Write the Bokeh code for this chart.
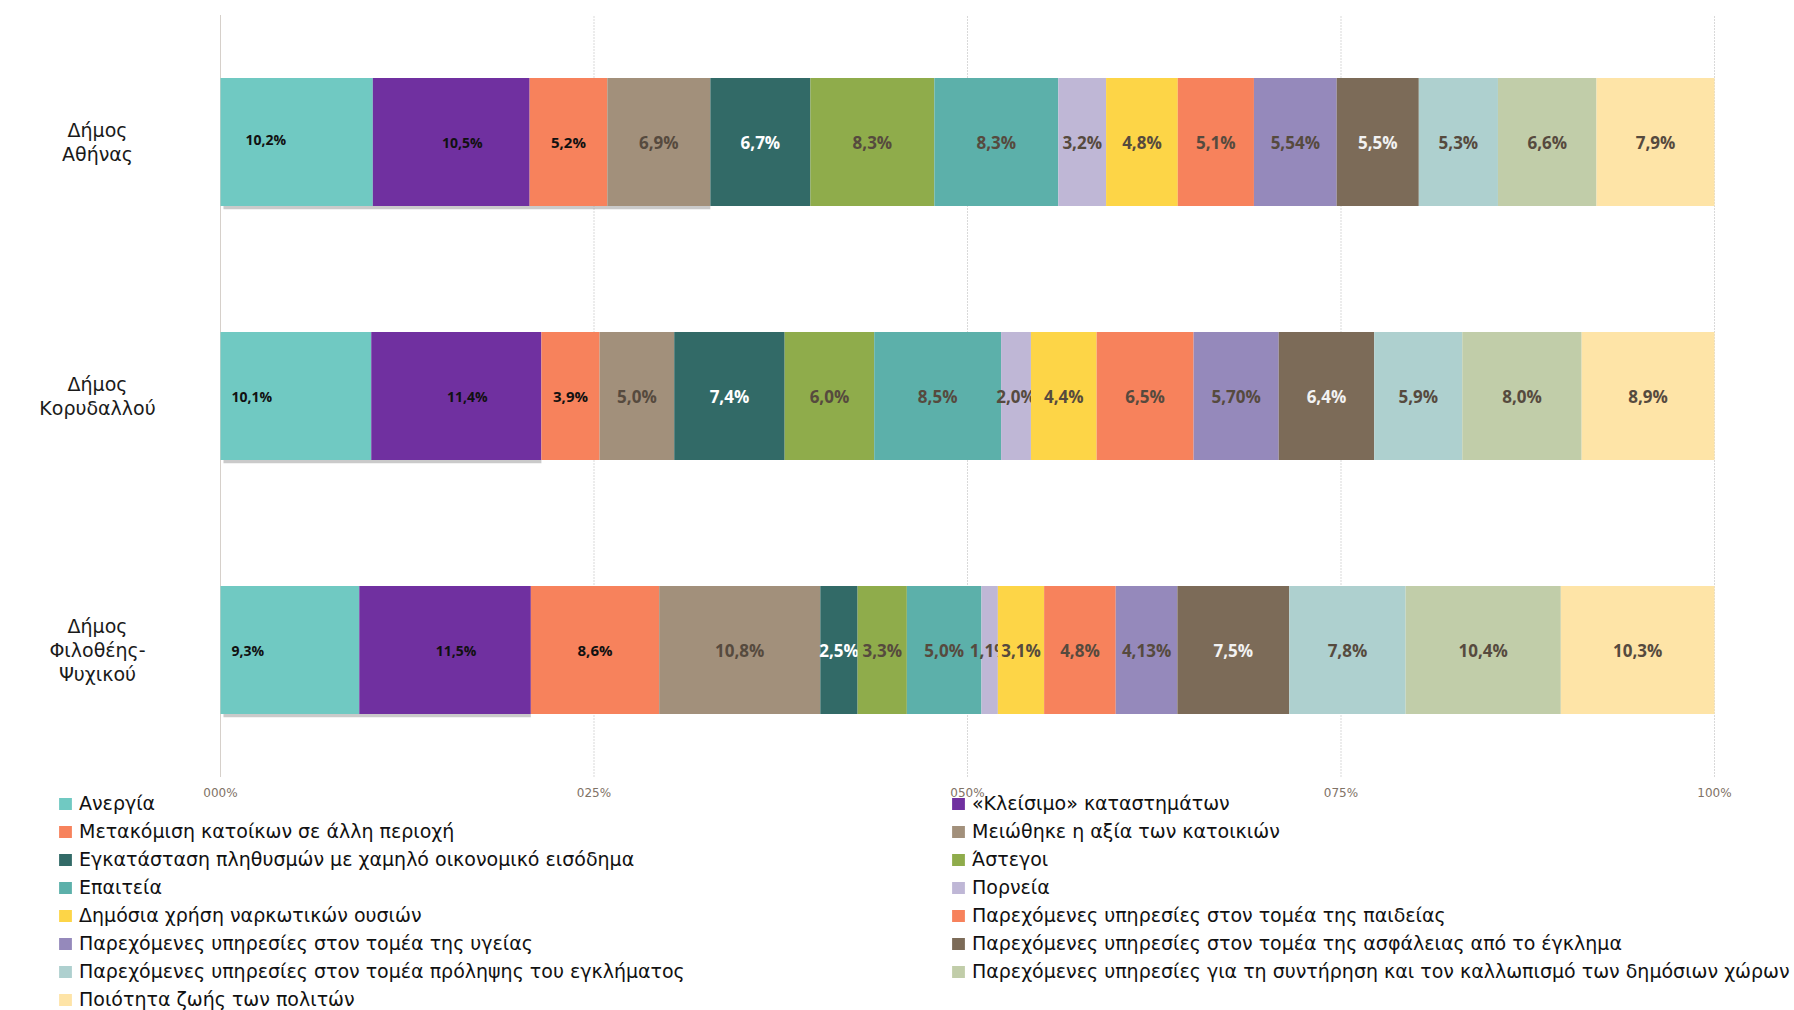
from bokeh.plotting import figure
from bokeh.models import ColumnDataSource, Range1d, FixedTicker, Legend, LegendItem
from bokeh.embed import file_html
from bokeh.resources import INLINE
from bokeh.core.properties import value

# ---------------- data ----------------
municipalities = ["Δήμος Αθήνας", "Δήμος Κορυδαλλού", "Δήμος Φιλοθέης-Ψυχικού"]
municipality_lines = [["Δήμος", "Αθήνας"], ["Δήμος", "Κορυδαλλού"], ["Δήμος", "Φιλοθέης-", "Ψυχικού"]]

series_names = [
    "Ανεργία",
    "«Κλείσιμο» καταστημάτων",
    "Μετακόμιση κατοίκων σε άλλη περιοχή",
    "Μειώθηκε η αξία των κατοικιών",
    "Εγκατάσταση πληθυσμών με χαμηλό οικονομικό εισόδημα",
    "Άστεγοι",
    "Επαιτεία",
    "Πορνεία",
    "Δημόσια χρήση ναρκωτικών ουσιών",
    "Παρεχόμενες υπηρεσίες στον τομέα της παιδείας",
    "Παρεχόμενες υπηρεσίες στον τομέα της υγείας",
    "Παρεχόμενες υπηρεσίες στον τομέα της ασφάλειας από το έγκλημα",
    "Παρεχόμενες υπηρεσίες στον τομέα πρόληψης του εγκλήματος",
    "Παρεχόμενες υπηρεσίες για τη συντήρηση και τον καλλωπισμό των δημόσιων χώρων",
    "Ποιότητα ζωής των πολιτών",
]

athens     = [10.2, 10.5, 5.2, 6.9, 6.7, 8.3, 8.3, 3.2, 4.8, 5.1, 5.54, 5.5, 5.3, 6.6, 7.9]
korydallos = [10.1, 11.4, 3.9, 5.0, 7.4, 6.0, 8.5, 2.0, 4.4, 6.5, 5.70, 6.4, 5.9, 8.0, 8.9]
filothei   = [9.3, 11.5, 8.6, 10.8, 2.5, 3.3, 5.0, 1.1, 3.1, 4.8, 4.13, 7.5, 7.8, 10.4, 10.3]
label_decimals = [1, 1, 1, 1, 1, 1, 1, 1, 1, 1, 2, 1, 1, 1, 1]

x_ticks = [0.0, 0.25, 0.5, 0.75, 1.0]
x_tick_labels = ["000%", "025%", "050%", "075%", "100%"]

# ---------------- style ----------------
colors = ["#70C9C2", "#7030A0", "#F7825C", "#A2907B", "#326A67", "#8FAC4B", "#5CB0AA", "#BFB7D6",
          "#FDD547", "#F7825C", "#9589BB", "#7C6B58", "#AED0CF", "#C1CDA9", "#FEE4A7"]
dark = "#564A3E"
label_colors = ["#111111", "#111111", "#111111", dark, "#FFFFFF", dark, dark, dark,
                dark, dark, dark, "#F2F2F2", dark, dark, dark]
label_sizes = ["14px", "14px", "15px"] + ["17px"] * 12
shadow_segments = [4, 2, 2]          # leading segments of each bar that carry a drop shadow
first_label_dx = [25, 11, 11]        # pixel offsets of the first-series labels
first_label_dy = [-3, 0, 0]

rows = [athens, korydallos, filothei]
n = len(municipalities)
ypos = [n - 1 - i + 0.5 for i in range(n)]      # Athens on top

W, H = 1794, 1010
PX_LEFT, PX_RIGHT = 220, 1714        # pixel x of 0 % and 100 %
xs = PX_RIGHT - PX_LEFT
PX_Y0, UNIT_Y = 776.5, 254.0         # pixel y of the bottom of the category band, px per category
x_range = Range1d(-PX_LEFT / xs, 1 + (W - PX_RIGHT) / xs)
y_range = Range1d(-(H - PX_Y0) / UNIT_Y, n + (PX_Y0 - n * UNIT_Y) / UNIT_Y)

p = figure(width=W, height=H, x_range=x_range, y_range=y_range,
           output_backend="svg", toolbar_location=None,
           min_border_left=0, min_border_right=0, min_border_top=0, min_border_bottom=0)
p.outline_line_color = None
p.yaxis.visible = False
p.grid.grid_line_color = None

# vertical gridlines over the category band only (first solid, others dotted)
p.segment(x0=x_ticks[:1], y0=[0], x1=x_ticks[:1], y1=[n], line_color="#D6D0CA", line_width=1)
p.segment(x0=x_ticks[1:], y0=[0] * (len(x_ticks) - 1), x1=x_ticks[1:], y1=[n] * (len(x_ticks) - 1),
          line_color="#D9D9D9", line_width=1, line_dash="2 1")

xa = p.xaxis[0]
xa.fixed_location = 0
xa.ticker = FixedTicker(ticks=x_ticks)
xa.major_label_overrides = {t: l for t, l in zip(x_ticks, x_tick_labels)}
xa.axis_line_color = None
xa.major_tick_line_color = None
xa.major_tick_out = 0
xa.major_tick_in = 0
xa.minor_tick_line_color = None
xa.major_label_text_font = "DejaVu Sans"
xa.major_label_text_font_size = "12px"
xa.major_label_text_color = "#7F7266"
xa.major_label_standoff = 9

bar_h = 0.504
totals = [sum(r) for r in rows]

# drop shadows
sh_right = [sum(rows[i][:shadow_segments[i]]) / totals[i] for i in range(n)]
p.hbar(y=[y - bar_h / 2 - 0.006 for y in ypos], left=[0.002] * n, right=sh_right, height=0.014,
       fill_color="#9E9E9E", fill_alpha=0.55, line_color=None)

renderers = []
cum = [0.0] * n
for j, name in enumerate(series_names):
    vals = [r[j] for r in rows]
    left = [cum[i] / totals[i] for i in range(n)]
    right = [(cum[i] + vals[i]) / totals[i] for i in range(n)]
    cum = [cum[i] + vals[i] for i in range(n)]
    d = label_decimals[j]
    texts = [(f"{v:.{d}f}").replace(".", ",") + "%" for v in vals]
    src = ColumnDataSource(dict(y=ypos, left=left, right=right,
                                mid=[(a + b) / 2 for a, b in zip(left, right)], txt=texts,
                                dx=first_label_dx, dy=first_label_dy))
    r = p.hbar(y="y", left="left", right="right", height=bar_h, source=src,
               fill_color=colors[j], line_color=None)
    renderers.append(r)
    if j == 0:
        p.text(x="left", y="y", text="txt", source=src, x_offset="dx", y_offset="dy",
               text_align="left", text_baseline="middle", text_font=value("Open Sans"),
               text_font_style="bold", text_font_size=label_sizes[j], text_color=label_colors[j])
    else:
        p.text(x="mid", y="y", text="txt", source=src, x_offset=(11 if j == 1 else 0),
               text_align="center", text_baseline="middle", text_font=value("Open Sans"),
               text_font_style="bold", text_font_size=label_sizes[j], text_color=label_colors[j])

# category labels, left of the bars
cat_src = ColumnDataSource(dict(y=ypos, txt=["\n".join(l) for l in municipality_lines]))
p.text(x=(97 - PX_LEFT) / xs, y="y", text="txt", source=cat_src, text_align="center",
       text_baseline="middle", text_font=value("DejaVu Sans"), text_font_size="19px",
       text_color="#1A1A1A", text_line_height=1.1)

# legend: two columns, filled row by row
def make_legend(idx, x):
    items = [LegendItem(label=series_names[k], renderers=[renderers[k]]) for k in idx]
    item_h, spacing = 22, 6
    hgt = len(idx) * item_h + (len(idx) - 1) * spacing
    top = 792
    return Legend(items=items, location=(x, H - top - hgt), orientation="vertical",
                  glyph_width=16, glyph_height=15, label_standoff=6, label_height=item_h,
                  spacing=spacing, padding=0, margin=0, border_line_color=None,
                  background_fill_alpha=0, label_text_font="DejaVu Sans",
                  label_text_font_size="19px", label_text_color="#111111")

p.add_layout(make_legend(list(range(0, 15, 2)), 57))
p.add_layout(make_legend(list(range(1, 15, 2)), 950))

open("out.html", "w").write(file_html(p, INLINE))
